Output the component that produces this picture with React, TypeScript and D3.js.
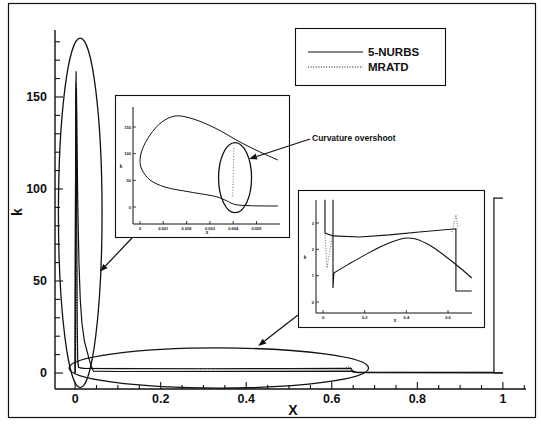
import React from "react";
import * as d3 from "d3";

type Pt = [number, number];

// ---- main chart: curvature k along the chord x ----
const xTicks = [0, 0.2, 0.4, 0.6, 0.8, 1];
const xTickLabels = ["0", "0.2", "0.4", "0.6", "0.8", "1"];
const kTicks = [0, 50, 100, 150];
const kTickLabels = ["0", "50", "100", "150"];

// 5-NURBS, upper surface
const nurbsUpper: Pt[] = [
  [0, 0], [0.0005, 60], [0.0015, 140], [0.0023, 164], [0.003, 130], [0.004, 70],
  [0.005, 25], [0.006, 8], [0.008, 3], [0.02, 2.5], [0.1, 2.4], [0.3, 2.3],
  [0.5, 2.4], [0.645, 2.5], [0.65, 0.4], [0.979, 0.3], [0.979, 95], [1.0, 95],
];
// 5-NURBS, lower surface
const nurbsLower: Pt[] = [
  [0, 0], [0.001, 100], [0.002, 150], [0.003, 155], [0.004, 140], [0.006, 95],
  [0.009, 60], [0.012, 40], [0.016, 27], [0.022, 17], [0.03, 10], [0.036, 5], [0.04, 2.5], [0.043, 1],
  [0.1, 0.8], [0.4, 0.9], [0.65, 1.0], [0.66, 0.2], [0.979, 0.1], [1.0, 0.1],
];
// MRATD
const mratd: Pt[] = [
  [0, 2], [0.0012, 120], [0.0018, 158], [0.0026, 110], [0.0035, 40], [0.005, 6],
  [0.01, 2.6], [0.3, 2.3], [0.63, 2.5], [0.64, 3.4], [0.645, 2.6], [0.65, 0.4], [0.97, 0.3],
];
const legendLabels = ["5-NURBS", "MRATD"];

// ---- leading-edge detail inset ----
const leXTicks = [0, 0.001, 0.002, 0.003, 0.004, 0.005];
const leXLabels = ["0", "0.001", "0.002", "0.003", "0.004", "0.005"];
const leKTicks = [0, 50, 100, 150];
const leKLabels = ["0", "50", "100", "150"];
const leNurbs: Pt[] = [
  [0.00592, 1.9], [0.00472, 2.5], [0.00405, 5], [0.0037, 12], [0.0033, 19], [0.00215, 28.1],
  [0.00107, 37.5], [0.00043, 50.6], [0.00009, 69.4], [0.0, 85], [0.00009, 106.9],
  [0.00043, 135], [0.00094, 159.4], [0.0015, 170.6], [0.00215, 166.9], [0.00322, 148.1],
  [0.00429, 121.9], [0.00515, 103.1], [0.00592, 88.1],
];
const leMratd: Pt[] = [
  [0.00398, 20], [0.004, 55], [0.00402, 90], [0.00404, 115],
];
const overshootNote = "Curvature overshoot";

// ---- chord-wise detail inset ----
const chXTicks = [0, 0.2, 0.4, 0.6];
const chXLabels = ["0", "0.2", "0.4", "0.6"];
const chKTicks = [0, 1, 2, 3];
const chKLabels = ["0", "1", "2", "3"];
const chUpper: Pt[] = [
  [0.0095, 3.88], [0.0095, 2.62], [0.048, 2.51], [0.176, 2.47], [0.319, 2.55],
  [0.462, 2.66], [0.638, 2.78], [0.638, 0.42], [0.714, 0.42],
];
const chLowerEntry: Pt[] = [[0.048, 3.88], [0.048, 0.53], [0.052, 1.1]];
const chLower: Pt[] = [
  [0.052, 1.1], [0.12, 1.42], [0.2, 1.78], [0.3, 2.18], [0.39, 2.42], [0.44, 2.4],
  [0.52, 2.12], [0.6, 1.66], [0.66, 1.28], [0.714, 0.91],
];
const chMratdA: Pt[] = [[0.0095, 2.55], [0.019, 1.29], [0.048, 2.62]];
const chMratdB: Pt[] = [[0.619, 2.66], [0.638, 3.31], [0.648, 2.78]];

const FONT = "'Liberation Sans', Arial, Helvetica, sans-serif";
const INK = "#111";

function Arrow({ from, to, head = 7 }: { from: Pt; to: Pt; head?: number }) {
  const dx = to[0] - from[0];
  const dy = to[1] - from[1];
  const len = Math.hypot(dx, dy);
  const ux = dx / len;
  const uy = dy / len;
  const bx = to[0] - ux * head;
  const by = to[1] - uy * head;
  const w = head * 0.38;
  const pts = [
    [to[0], to[1]],
    [bx - uy * w, by + ux * w],
    [bx + uy * w, by - ux * w],
  ];
  return (
    <g>
      <line x1={from[0]} y1={from[1]} x2={bx} y2={by} stroke={INK} strokeWidth={1.2} />
      <polygon points={pts.map((p) => p.join(",")).join(" ")} fill={INK} />
    </g>
  );
}

export default function App() {
  // main axes
  const x = d3.scaleLinear().domain([-0.047, 1.054]).range([55, 526]);
  const y = d3.scaleLinear().domain([-8.7, 186.4]).range([389, 30]);
  const line = d3.line<Pt>().x((d) => x(d[0])).y((d) => y(d[1]));

  const xMinor = d3.range(0, 1.051, 0.05);
  const kMinor = d3.range(0, 181, 10);

  // leading-edge inset
  const lx = d3.scaleLinear().domain([0, 0.005]).range([140, 256.5]);
  const ly = d3.scaleLinear().domain([0, 150]).range([207, 127]);
  const lLine = d3.line<Pt>().x((d) => lx(d[0])).y((d) => ly(d[1])).curve(d3.curveCatmullRom.alpha(0.5));
  const lDots = d3.line<Pt>().x((d) => lx(d[0])).y((d) => ly(d[1]));

  // chord inset
  const cx = d3.scaleLinear().domain([0, 0.6]).range([323, 448]);
  const cy = d3.scaleLinear().domain([0, 3]).range([302, 223]);
  const cLine = d3.line<Pt>().x((d) => cx(d[0])).y((d) => cy(d[1]));
  const cSmooth = d3.line<Pt>().x((d) => cx(d[0])).y((d) => cy(d[1])).curve(d3.curveCatmullRom.alpha(0.5));

  // highlighted regions in data units
  const tallE = { cx: x(0.012), cy: y(87), rx: x(0.051) - x(0), ry: y(0) - y(95) };
  const flatE = { cx: x(0.336), cy: y(2.7), rx: x(0.35) - x(0), ry: y(0) - y(10.9) };

  return (
    <svg
      width={541}
      height={424}
      style={{ position: "absolute", left: 0, top: 0, background: "#fff" }}
      fontFamily={FONT}
    >
      <rect x={0} y={0} width={541} height={424} fill="#fff" />
      {/* outer frame */}
      <rect x={8.5} y={3.5} width={527} height={414} fill="none" stroke={INK} strokeWidth={1.2} />

      {/* axes */}
      <line x1={55} y1={30} x2={55} y2={389} stroke={INK} strokeWidth={1.4} />
      <line x1={55} y1={389} x2={526} y2={389} stroke={INK} strokeWidth={1.4} />
      {xMinor.map((v) => {
        const major = xTicks.some((t) => Math.abs(t - v) < 1e-6);
        return (
          <line key={"xm" + v} x1={x(v)} x2={x(v)} y1={389} y2={389 - (major ? 7 : 4)} stroke={INK} strokeWidth={1.1} />
        );
      })}
      {kMinor.map((v) => {
        const major = kTicks.includes(v);
        return (
          <line key={"km" + v} x1={55} x2={55 + (major ? 8 : 5)} y1={y(v)} y2={y(v)} stroke={INK} strokeWidth={1.1} />
        );
      })}
      {xTicks.map((v, i) => (
        <text key={"xt" + v} x={x(v)} y={403} textAnchor="middle" fontSize={12.5} fontWeight="bold" fill={INK}>
          {xTickLabels[i]}
        </text>
      ))}
      {kTicks.map((v, i) => (
        <text key={"kt" + v} x={47} y={y(v) + 4.5} textAnchor="end" fontSize={12.5} fontWeight="bold" fill={INK}>
          {kTickLabels[i]}
        </text>
      ))}
      <text x={293} y={415} textAnchor="middle" fontSize={14} fontWeight="bold" fill={INK}>X</text>
      <text transform="translate(22,212) rotate(-90)" textAnchor="middle" fontSize={14} fontWeight="bold" fill={INK}>k</text>

      {/* curves */}
      <path d={line(nurbsLower) ?? ""} fill="none" stroke={INK} strokeWidth={1.2} />
      <path d={line(nurbsUpper) ?? ""} fill="none" stroke={INK} strokeWidth={1.2} />
      <path d={line([[0.979, 0], [1.0, 0]]) ?? ""} fill="none" stroke={INK} strokeWidth={1.2} />
      <path d={line(mratd) ?? ""} fill="none" stroke={INK} strokeWidth={1} strokeDasharray="1 1.6" />

      {/* highlight ellipses */}
      <ellipse {...tallE} fill="none" stroke={INK} strokeWidth={1.3} />
      <ellipse {...flatE} fill="none" stroke={INK} strokeWidth={1.3} />

      {/* legend */}
      <rect x={295.5} y={28.5} width={150} height={57} fill="#fff" stroke={INK} strokeWidth={1.1} />
      <line x1={308} x2={363} y1={52} y2={52} stroke={INK} strokeWidth={1.2} />
      <line x1={308} x2={363} y1={67} y2={67} stroke={INK} strokeWidth={1} strokeDasharray="1 1.6" />
      <text x={368} y={56} fontSize={11.5} fontWeight="bold" fill={INK}>{legendLabels[0]}</text>
      <text x={368} y={71} fontSize={11.5} fontWeight="bold" fill={INK}>{legendLabels[1]}</text>

      {/* leading-edge inset */}
      <rect x={115.5} y={95.5} width={174} height={142} fill="#fff" stroke={INK} strokeWidth={1.1} />
      <line x1={133} y1={107} x2={133} y2={224} stroke={INK} strokeWidth={1} />
      <line x1={133} y1={224} x2={280} y2={224} stroke={INK} strokeWidth={1} />
      {leXTicks.map((v, i) => (
        <g key={"lx" + v}>
          <line x1={lx(v)} x2={lx(v)} y1={224} y2={221} stroke={INK} strokeWidth={0.8} />
          <text x={lx(v)} y={229.5} textAnchor="middle" fontSize={4} fontWeight="bold" fill={INK}>{leXLabels[i]}</text>
        </g>
      ))}
      {leKTicks.map((v, i) => (
        <g key={"lk" + v}>
          <line x1={133} x2={136} y1={ly(v)} y2={ly(v)} stroke={INK} strokeWidth={0.8} />
          <text x={131} y={ly(v) + 1.5} textAnchor="end" fontSize={4} fontWeight="bold" fill={INK}>{leKLabels[i]}</text>
        </g>
      ))}
      <text x={121} y={168} textAnchor="middle" fontSize={4.5} fontWeight="bold" fill={INK}>k</text>
      <text x={207} y={234} textAnchor="middle" fontSize={4.5} fontWeight="bold" fill={INK}>x</text>
      <path d={lLine(leNurbs) ?? ""} fill="none" stroke={INK} strokeWidth={1} />
      <path d={lDots(leMratd) ?? ""} fill="none" stroke="#444" strokeWidth={0.8} strokeDasharray="1 1.8" />
      <ellipse cx={lx(0.00408)} cy={ly(55)} rx={16.5} ry={35} fill="none" stroke={INK} strokeWidth={1.3} />
      <Arrow from={[310, 139]} to={[249, 159]} head={8} />
      <text x={312} y={141} fontSize={8.5} fontWeight="bold" fill={INK}>{overshootNote}</text>

      {/* chord-wise inset */}
      <rect x={298.5} y={190.5} width={186} height={137} fill="#fff" stroke={INK} strokeWidth={1.1} />
      <line x1={316} y1={200} x2={316} y2={313} stroke={INK} strokeWidth={1} />
      <line x1={316} y1={313} x2={472} y2={313} stroke={INK} strokeWidth={1} />
      {chXTicks.map((v, i) => (
        <g key={"cx" + v}>
          <line x1={cx(v)} x2={cx(v)} y1={313} y2={310} stroke={INK} strokeWidth={0.8} />
          <text x={cx(v)} y={318.5} textAnchor="middle" fontSize={4} fontWeight="bold" fill={INK}>{chXLabels[i]}</text>
        </g>
      ))}
      {chKTicks.map((v, i) => (
        <g key={"ck" + v}>
          <line x1={316} x2={319} y1={cy(v)} y2={cy(v)} stroke={INK} strokeWidth={0.8} />
          <text x={314} y={cy(v) + 1.5} textAnchor="end" fontSize={4} fontWeight="bold" fill={INK}>{chKLabels[i]}</text>
        </g>
      ))}
      <text x={305} y={259} textAnchor="middle" fontSize={4.5} fontWeight="bold" fill={INK}>k</text>
      <text x={395} y={322} textAnchor="middle" fontSize={4.5} fontWeight="bold" fill={INK}>x</text>
      <path d={cLine(chUpper) ?? ""} fill="none" stroke={INK} strokeWidth={1.1} />
      <path d={cLine(chLowerEntry) ?? ""} fill="none" stroke={INK} strokeWidth={1.1} />
      <path d={cSmooth(chLower) ?? ""} fill="none" stroke={INK} strokeWidth={1.1} />
      <path d={cLine(chMratdA) ?? ""} fill="none" stroke="#444" strokeWidth={0.8} strokeDasharray="1 1.6" />
      <path d={cLine(chMratdB) ?? ""} fill="none" stroke="#444" strokeWidth={0.8} strokeDasharray="1 1.6" />

      {/* pointers from the insets to the regions they enlarge */}
      <Arrow from={[132, 238]} to={[x(0.058), y(55)]} head={8} />
      <Arrow from={[298, 315]} to={[x(0.428), y(14.7)]} head={8} />
    </svg>
  );
}
